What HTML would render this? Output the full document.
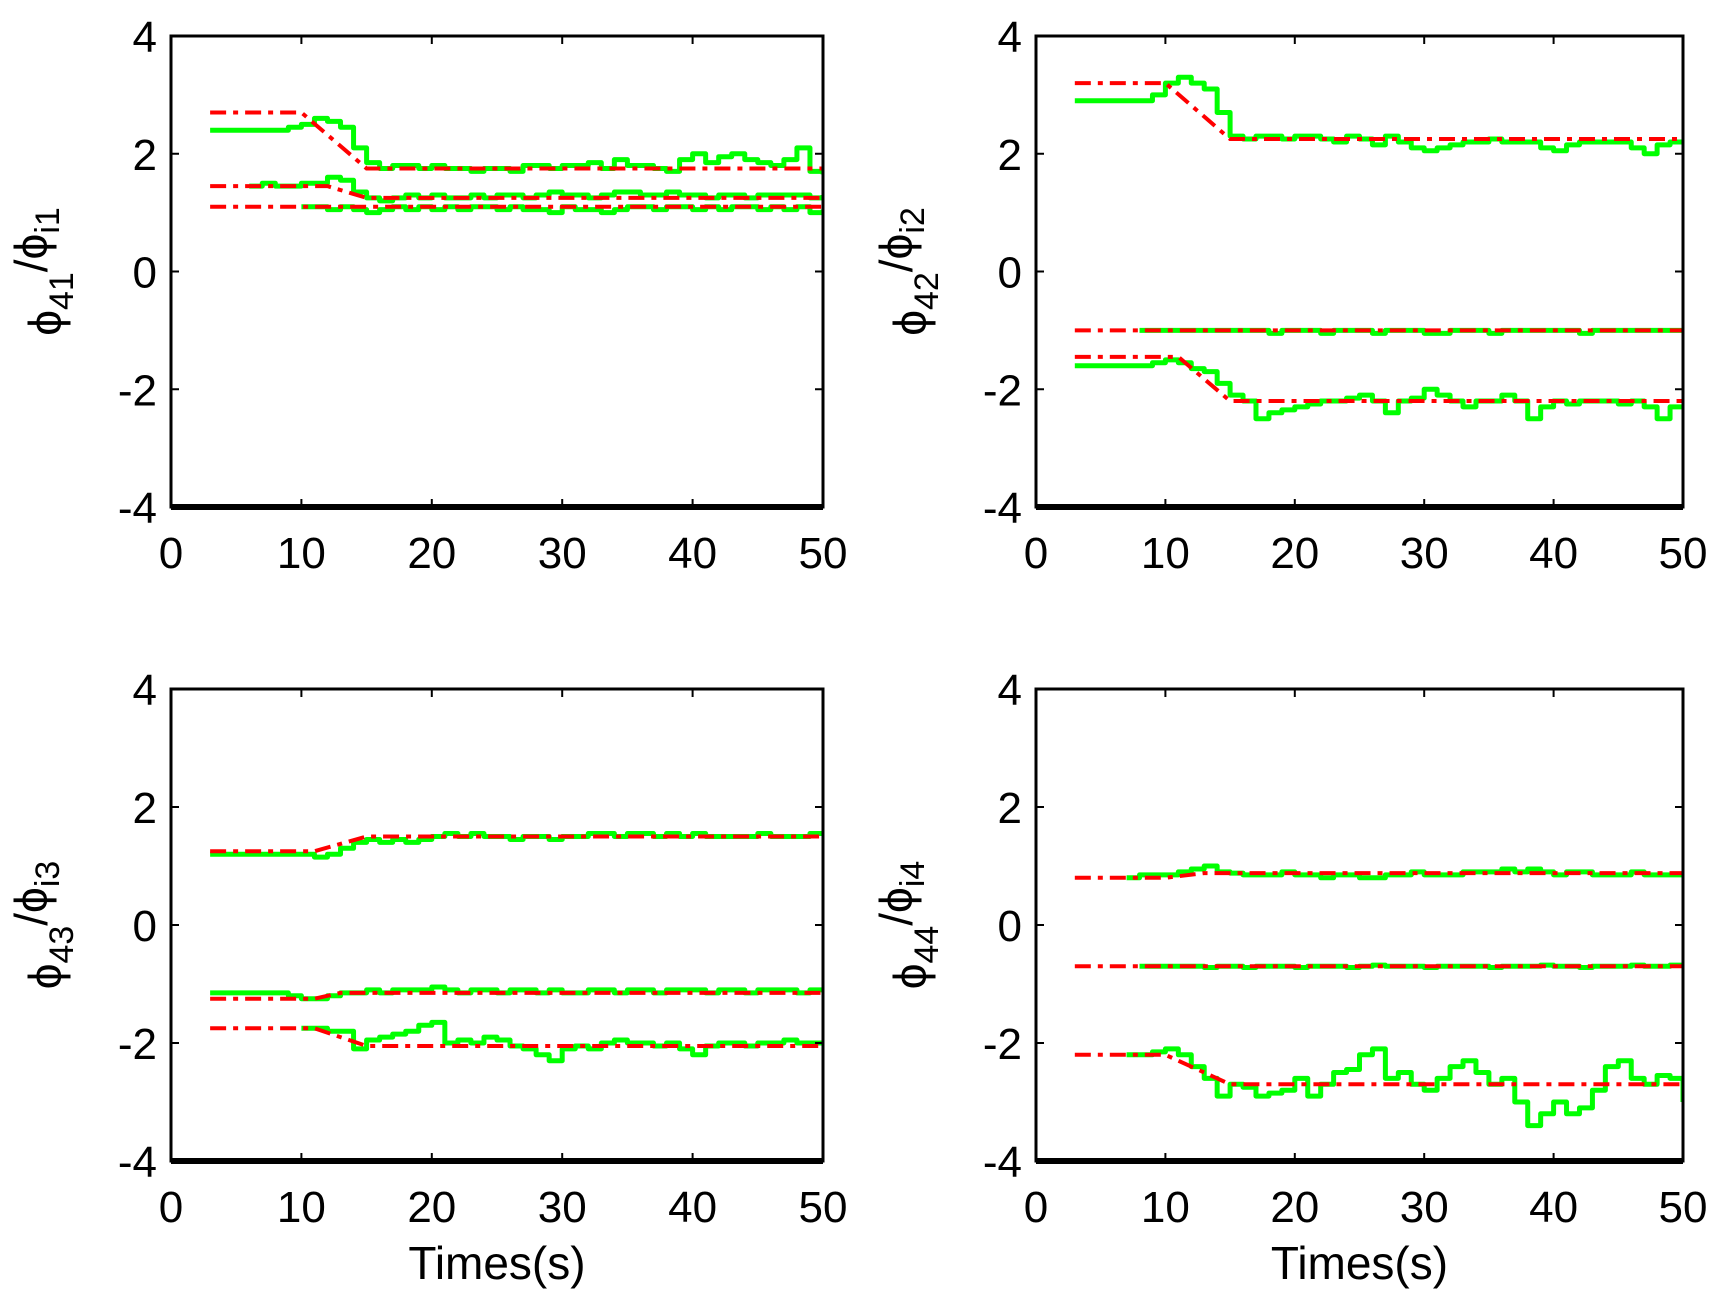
<!DOCTYPE html>
<html><head><meta charset="utf-8"><style>
html,body{margin:0;padding:0;background:#fff;}
svg{display:block;}
text{font-family:"Liberation Sans",sans-serif;fill:#000;}
</style></head><body>
<svg id="fig" width="1715" height="1309" viewBox="0 0 1715 1309"></svg>
<script>
// ---- data ----
const xTicks = [0,10,20,30,40,50];
const yTicks = [4,2,0,-2,-4];
const tGrid = [3,4,5,6,7,8,9,10,11,12,13,14,15,16,17,18,19,20,21,22,23,24,25,26,27,28,29,30,31,32,33,34,35,36,37,38,39,40,41,42,43,44,45,46,47,48,49,50];

// red reference lines: breakpoints [t], [v]
const p1RedT = [[3,10,15,50],[3,12,15,50],[3,50]];
const p1RedV = [[2.7,2.7,1.75,1.75],[1.45,1.45,1.25,1.25],[1.1,1.1]];
const p2RedT = [[3,10,15,50],[3,50],[3,11,15,50]];
const p2RedV = [[3.2,3.2,2.25,2.25],[-1.0,-1.0],[-1.45,-1.45,-2.2,-2.2]];
const p3RedT = [[3,11,15,50],[3,11,13,50],[3,11,15,50]];
const p3RedV = [[1.25,1.25,1.5,1.5],[-1.25,-1.25,-1.15,-1.15],[-1.75,-1.75,-2.05,-2.05]];
const p4RedT = [[3,10,13,50],[3,50],[3,10,15,50]];
const p4RedV = [[0.8,0.8,0.88,0.88],[-0.7,-0.7],[-2.2,-2.2,-2.7,-2.7]];

// green estimates on tGrid (null = not drawn)
const p1G1 = [2.4,2.4,2.4,2.4,2.4,2.4,2.45,2.5,2.6,2.55,2.45,2.1,1.85,1.75,1.8,1.8,1.75,1.8,1.75,1.75,1.7,1.75,1.75,1.7,1.8,1.8,1.75,1.8,1.8,1.85,1.75,1.9,1.8,1.8,1.75,1.7,1.9,2.0,1.85,1.95,2.0,1.9,1.85,1.8,1.9,2.1,1.7,1.65];
const p1G2 = [null,null,null,1.45,1.5,1.45,1.45,1.5,1.5,1.6,1.55,1.35,1.25,1.2,1.25,1.3,1.25,1.3,1.25,1.25,1.3,1.25,1.3,1.3,1.25,1.3,1.35,1.3,1.3,1.25,1.3,1.35,1.35,1.3,1.3,1.35,1.3,1.3,1.25,1.3,1.3,1.25,1.3,1.3,1.3,1.3,1.25,1.3];
const p1G3 = [null,null,null,null,null,null,null,1.1,1.1,1.05,1.1,1.05,1.0,1.05,1.1,1.05,1.1,1.05,1.1,1.05,1.1,1.1,1.05,1.1,1.05,1.05,1.0,1.1,1.05,1.05,1.0,1.05,1.1,1.1,1.05,1.1,1.1,1.05,1.1,1.05,1.1,1.1,1.05,1.1,1.05,1.1,1.0,1.05];
const p2G1 = [2.9,2.9,2.9,2.9,2.9,2.9,3.0,3.2,3.3,3.2,3.1,2.7,2.3,2.25,2.3,2.3,2.25,2.3,2.3,2.25,2.2,2.3,2.25,2.15,2.3,2.2,2.1,2.05,2.1,2.15,2.2,2.2,2.25,2.2,2.2,2.2,2.1,2.05,2.15,2.2,2.2,2.2,2.2,2.1,2.0,2.15,2.2,2.2];
const p2G2 = [null,null,null,null,null,-1.0,-1.0,-1.0,-1.0,-1.0,-1.0,-1.0,-1.0,-1.0,-1.0,-1.05,-1.0,-1.0,-1.0,-1.05,-1.0,-1.0,-1.0,-1.05,-1.0,-1.0,-1.0,-1.05,-1.05,-1.0,-1.0,-1.0,-1.05,-1.0,-1.0,-1.0,-1.0,-1.0,-1.0,-1.05,-1.0,-1.0,-1.0,-1.0,-1.0,-1.0,-1.0,-1.0];
const p2G3 = [-1.6,-1.6,-1.6,-1.6,-1.6,-1.6,-1.55,-1.5,-1.55,-1.65,-1.7,-1.9,-2.1,-2.2,-2.5,-2.4,-2.35,-2.3,-2.25,-2.2,-2.2,-2.15,-2.1,-2.2,-2.4,-2.2,-2.15,-2.0,-2.1,-2.2,-2.3,-2.2,-2.2,-2.1,-2.2,-2.5,-2.3,-2.2,-2.25,-2.2,-2.2,-2.2,-2.25,-2.2,-2.3,-2.5,-2.3,-2.3];
const p3G1 = [1.2,1.2,1.2,1.2,1.2,1.2,1.2,1.2,1.15,1.2,1.3,1.4,1.45,1.4,1.45,1.4,1.45,1.5,1.55,1.5,1.55,1.5,1.5,1.45,1.5,1.5,1.45,1.5,1.5,1.55,1.55,1.5,1.55,1.55,1.5,1.55,1.5,1.55,1.5,1.5,1.5,1.5,1.55,1.5,1.5,1.5,1.55,1.55];
const p3G2 = [-1.15,-1.15,-1.15,-1.15,-1.15,-1.15,-1.2,-1.25,-1.25,-1.2,-1.15,-1.15,-1.1,-1.15,-1.1,-1.1,-1.1,-1.05,-1.1,-1.15,-1.1,-1.1,-1.15,-1.1,-1.1,-1.15,-1.1,-1.15,-1.15,-1.1,-1.1,-1.15,-1.1,-1.1,-1.15,-1.1,-1.1,-1.1,-1.15,-1.1,-1.1,-1.15,-1.1,-1.1,-1.1,-1.15,-1.1,-1.1];
const p3G3 = [null,null,null,null,null,null,null,-1.75,-1.75,-1.8,-1.8,-2.1,-1.95,-1.9,-1.85,-1.8,-1.7,-1.65,-2.0,-1.95,-2.0,-1.9,-1.95,-2.05,-2.1,-2.2,-2.3,-2.1,-2.05,-2.1,-2.0,-1.95,-2.0,-2.0,-2.05,-2.0,-2.1,-2.2,-2.05,-2.0,-2.0,-2.05,-2.0,-2.0,-1.95,-2.0,-2.0,-2.0];
const p4G1 = [null,null,null,null,0.8,0.85,0.85,0.85,0.9,0.95,1.0,0.9,0.88,0.85,0.85,0.85,0.9,0.85,0.85,0.8,0.85,0.85,0.8,0.8,0.85,0.85,0.9,0.85,0.85,0.85,0.9,0.9,0.9,0.95,0.9,0.95,0.9,0.85,0.9,0.9,0.85,0.85,0.85,0.9,0.85,0.85,0.85,0.85];
const p4G2 = [null,null,null,null,null,-0.7,-0.7,-0.7,-0.7,-0.7,-0.72,-0.7,-0.7,-0.72,-0.7,-0.7,-0.7,-0.72,-0.7,-0.7,-0.7,-0.72,-0.7,-0.68,-0.7,-0.7,-0.7,-0.72,-0.7,-0.7,-0.7,-0.7,-0.72,-0.7,-0.7,-0.7,-0.68,-0.7,-0.7,-0.72,-0.7,-0.7,-0.7,-0.68,-0.7,-0.7,-0.68,-0.68];
const p4G3 = [null,null,null,null,-2.2,-2.2,-2.15,-2.1,-2.2,-2.4,-2.6,-2.9,-2.7,-2.75,-2.9,-2.85,-2.8,-2.6,-2.9,-2.7,-2.5,-2.45,-2.2,-2.1,-2.6,-2.5,-2.7,-2.8,-2.6,-2.4,-2.3,-2.5,-2.7,-2.6,-3.0,-3.4,-3.2,-3.0,-3.2,-3.1,-2.8,-2.4,-2.3,-2.6,-2.7,-2.55,-2.6,-3.0];

const panels = [
  {name:'phi41', L:171, R:823, T:36, B:507, sub1:'41', sub2:'i1', red:[p1RedT,p1RedV], green:[p1G1,p1G2,p1G3], xlab:false},
  {name:'phi42', L:1036, R:1683, T:36, B:507, sub1:'42', sub2:'i2', red:[p2RedT,p2RedV], green:[p2G1,p2G2,p2G3], xlab:false},
  {name:'phi43', L:171, R:823, T:689, B:1161, sub1:'43', sub2:'i3', red:[p3RedT,p3RedV], green:[p3G1,p3G2,p3G3], xlab:true},
  {name:'phi44', L:1036, R:1683, T:689, B:1161, sub1:'44', sub2:'i4', red:[p4RedT,p4RedV], green:[p4G1,p4G2,p4G3], xlab:true}
];

const NS='http://www.w3.org/2000/svg';
const svg=document.getElementById('fig');
function mk(tag, attrs, parent){const e=document.createElementNS(NS,tag);for(const k in attrs)e.setAttribute(k,attrs[k]);(parent||svg).appendChild(e);return e;}

panels.forEach(p=>{
  const g=mk('g',{});
  
  
  const sx=t=>p.L+t/50*(p.R-p.L);
  const sy=v=>p.T+(4-v)/8*(p.B-p.T);
  const cid='clip-'+p.name;
  const cp=mk('clipPath',{id:cid},g); mk('rect',{x:p.L,y:p.T,width:p.R-p.L,height:p.B-p.T},cp);
  const data=mk('g',{'clip-path':'url(#'+cid+')'},g);
  p.green.forEach((vals,i)=>{
    let pts=[];
    vals.forEach((v,j)=>{ if(v!==null){ if(pts.length){const pv=pts[pts.length-1]; pts.push([sx(tGrid[j]),pv[1]]);} pts.push([sx(tGrid[j]),sy(v)]);} });
    const pl=mk('polyline',{points:pts.map(q=>q.join(',')).join(' '),fill:'none',stroke:'#00ff00','stroke-width':5,'stroke-linejoin':'round'},data);
    
    
  });
  const [RT,RV]=p.red;
  RT.forEach((ts,i)=>{
    const pts=ts.map((t,j)=>sx(t)+','+sy(RV[i][j])).join(' ');
    const pl=mk('polyline',{points:pts,fill:'none',stroke:'#ff0000','stroke-width':4,'stroke-dasharray':'16,7,5,7'},data);
    
    
  });
  const fr=mk('rect',{x:p.L,y:p.T,width:p.R-p.L,height:p.B-p.T,fill:'none',stroke:'#000','stroke-width':3},g);
  
  
  mk('line',{x1:p.L,y1:p.B,x2:p.R,y2:p.B,stroke:'#000','stroke-width':6},g);
  xTicks.forEach(t=>{
    mk('line',{x1:sx(t),y1:p.B,x2:sx(t),y2:p.B-8,stroke:'#000','stroke-width':2},g);
    mk('line',{x1:sx(t),y1:p.T,x2:sx(t),y2:p.T+8,stroke:'#000','stroke-width':2},g);
    const tx=mk('text',{x:sx(t),y:p.B+61,'font-size':44,'text-anchor':'middle'},g);
    tx.textContent=t;
    
    
  });
  yTicks.forEach(v=>{
    mk('line',{x1:p.L,y1:sy(v),x2:p.L+8,y2:sy(v),stroke:'#000','stroke-width':2},g);
    mk('line',{x1:p.R,y1:sy(v),x2:p.R-8,y2:sy(v),stroke:'#000','stroke-width':2},g);
    const ty=mk('text',{x:p.L-14,y:sy(v)+16,'font-size':44,'text-anchor':'end'},g);
    ty.textContent=v;
    
    
  });
  const cy=(p.T+p.B)/2, cx=p.L-120;
  const yl=mk('text',{x:0,y:0,'font-size':46,'text-anchor':'middle',transform:'translate('+(cx+10)+','+cy+') rotate(-90)'},g);
  
  
  yl.innerHTML='ϕ<tspan font-size="34" dy="12">'+p.sub1+'</tspan><tspan dy="-26">/</tspan><tspan>ϕ</tspan><tspan font-size="34" dy="12">'+p.sub2+'</tspan>';
  if(p.xlab){
    const xl=mk('text',{x:(p.L+p.R)/2,y:p.B+118,'font-size':46,'text-anchor':'middle'},g);
    xl.textContent='Times(s)';
    
    
  }
});
</script>
</body></html>
